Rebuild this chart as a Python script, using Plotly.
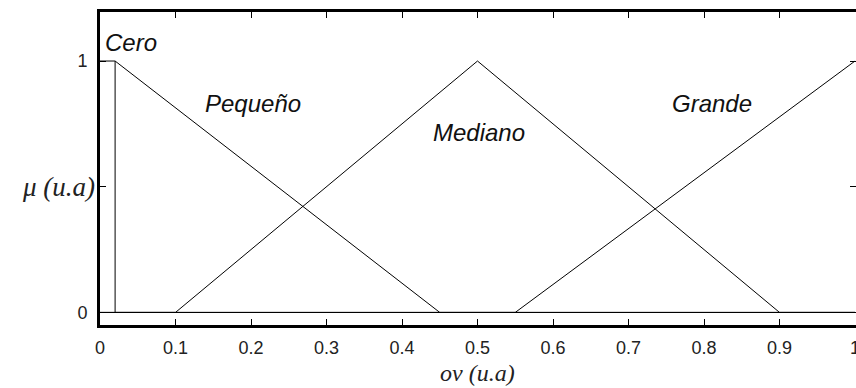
import plotly.graph_objects as go

# Membership functions (x in u.a, mu in u.a)
cero_x = [0.0, 0.02, 0.02, 1.0]
cero_y = [1.0, 1.0, 0.0, 0.0]
pequeno_x = [0.02, 0.45, 1.0]
pequeno_y = [1.0, 0.0, 0.0]
mediano_x = [0.0, 0.1, 0.5, 0.9, 1.0]
mediano_y = [0.0, 0.0, 1.0, 0.0, 0.0]
grande_x = [0.0, 0.55, 1.0]
grande_y = [0.0, 0.0, 1.0]

labels = ["Cero", "Pequeño", "Mediano", "Grande"]
label_pos_x = [0.041, 0.203, 0.502, 0.810]
label_pos_y = [1.072, 0.833, 0.714, 0.833]

x_tickvals = [0, 0.1, 0.2, 0.3, 0.4, 0.5, 0.6, 0.7, 0.8, 0.9, 1.0]
x_ticktext = ["0", "0.1", "0.2", "0.3", "0.4", "0.5", "0.6", "0.7", "0.8", "0.9", "1"]
y_tickvals = [0, 0.5, 1]
y_ticktext = ["0", "", "1"]

fig = go.Figure()
for xs, ys in [(cero_x, cero_y), (pequeno_x, pequeno_y), (mediano_x, mediano_y), (grande_x, grande_y)]:
    fig.add_trace(go.Scatter(x=xs, y=ys, mode="lines",
                             line=dict(color="black", width=1),
                             showlegend=False, hoverinfo="skip", cliponaxis=False))

for t, lx, ly in zip(labels, label_pos_x, label_pos_y):
    fig.add_annotation(x=lx, y=ly, xref="x", yref="y", text="<i>" + t + "</i>",
                       showarrow=False, font=dict(family="Liberation Sans, Arial", size=24, color="#111"))

# y-axis label at mu = 0.5
fig.add_annotation(x=0, y=0.5, xref="paper", yref="y", xanchor="right", xshift=-3,
                   text="<i>μ (u.a)</i>", showarrow=False,
                   font=dict(family="Liberation Serif, serif", size=27, color="#222"))
# x-axis title
fig.add_annotation(x=0.4993, y=-0.152, xref="paper", yref="paper",
                   xanchor="center", yanchor="middle",
                   text="<i>ov (u.a)</i>", showarrow=False,
                   font=dict(family="Liberation Serif, serif", size=24, color="#222"))

axis_common = dict(showline=True, linecolor="black", linewidth=3, mirror="ticks",
                   ticks="inside", ticklen=6, tickwidth=1, tickcolor="black",
                   showgrid=False, zeroline=False, automargin=False,
                   ticklabeloverflow="allow",
                   tickfont=dict(family="Liberation Sans, Arial", size=18, color="#222"))

fig.update_layout(
    width=856, height=388,
    margin=dict(l=100, r=0, t=12, b=63),
    paper_bgcolor="white", plot_bgcolor="white",
    template="none",
    xaxis=dict(range=[0, 1.0013], tickvals=x_tickvals, ticktext=x_ticktext,
               ticklabelstandoff=4, **axis_common),
    yaxis=dict(range=[-0.05, 1.195], tickvals=y_tickvals, ticktext=y_ticktext,
               ticklabelstandoff=6, **axis_common),
)

fig.write_html("out.html")
